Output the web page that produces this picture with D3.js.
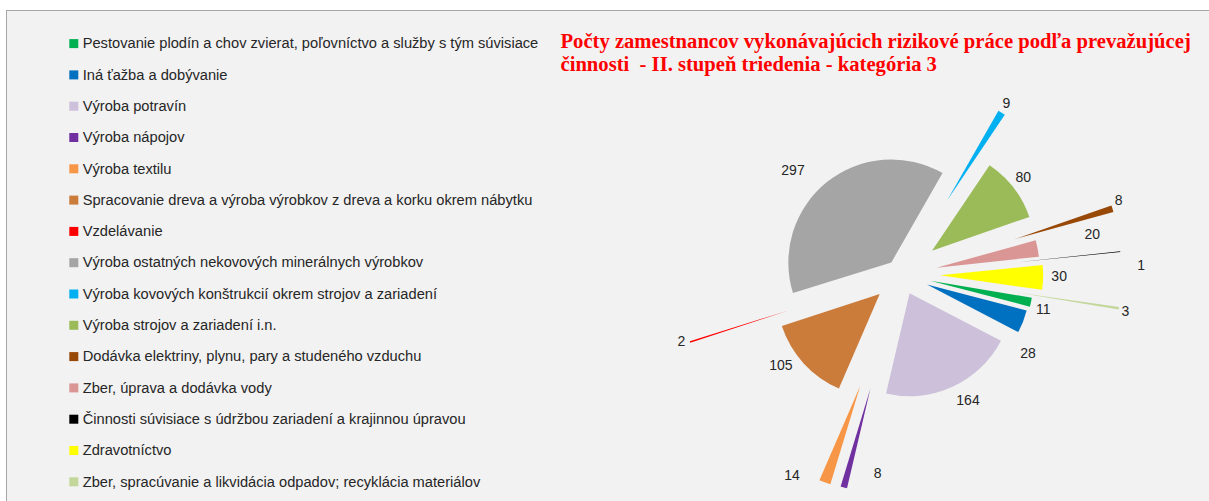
<!DOCTYPE html>
<html>
<head>
<meta charset="utf-8">
<script src="https://cdn.jsdelivr.net/npm/d3@7"></script>
<style>
  html, body { margin: 0; padding: 0; background: #ffffff; }
  svg { display: block; }
  text { white-space: pre; }
</style>
</head>
<body>
<svg id="chart" width="1209" height="501"></svg>
<script>
// ---- data ----
const categories = [
  "Pestovanie plodín a chov zvierat, poľovníctvo a služby s tým súvisiace",
  "Iná ťažba a dobývanie",
  "Výroba potravín",
  "Výroba nápojov",
  "Výroba textilu",
  "Spracovanie dreva a výroba výrobkov z dreva a korku okrem nábytku",
  "Vzdelávanie",
  "Výroba ostatných nekovových minerálnych výrobkov",
  "Výroba kovových konštrukcií okrem strojov a zariadení",
  "Výroba strojov a zariadení i.n.",
  "Dodávka elektriny, plynu, pary a studeného vzduchu",
  "Zber, úprava a dodávka vody",
  "Činnosti súvisiace s údržbou zariadení a krajinnou úpravou",
  "Zdravotníctvo",
  "Zber, spracúvanie a likvidácia odpadov; recyklácia materiálov"
];
const values = [11, 28, 164, 8, 14, 105, 2, 297, 9, 80, 8, 20, 1, 30, 3];
const titleLines = [
  "Počty zamestnancov vykonávajúcich rizikové práce podľa prevažujúcej",
  "činnosti  - II. stupeň triedenia - kategória 3"
];

// ---- styles ----
const colors = ["#00b050", "#0070c0", "#ccc0da", "#7030a0", "#f79646", "#cb7b3a", "#ff0000",
                "#a5a5a5", "#00b0f0", "#9bbb59", "#984807", "#da9694", "#000000", "#ffff00", "#c4d79b"];
const explode = [0.29, 0.27, 0.20, 1.14, 1.15, 0.28, 1.15, 0.15, 0.85, 0.38, 1.15, 0.35, 1.14, 0.38, 1.14];
const labelTurn = [1.7, 10.8, -3.5, -8.3, 8.4, 5.5, 1, -7.3, -0.3, -1, -1.65, -1.1, 3.7, -0.7, 0.4];
const labelGap = [13.5, 18.7, 18.4, -20.8, 7, 18.5, 8, 31.6, 10.7, 14.2, 8.7, 56.5, 20, 16, 7];

const W = 1209, H = 501;
const cx = 901, cy = 274.5, R = 103;
const firstSliceDeg = 99.5;

const svg = d3.select("#chart");

// frame
svg.append("rect")
  .attr("x", 6.5).attr("y", 10.5)
  .attr("width", 1400).attr("height", 700)
  .attr("fill", "#f2f2f2")
  .attr("stroke", "#a6a6a6").attr("stroke-width", 1);

// title
const title = svg.append("g").attr("fill", "#ff0000")
  .attr("font-family", "'Liberation Serif', 'Times New Roman', serif")
  .attr("font-weight", "bold");
const t1 = title.append("text").attr("x", 560.5).attr("y", 47.5).attr("font-size", 20)
  .attr("xml:space", "preserve").text(titleLines[0]);
const titleW = t1.node().getComputedTextLength();
const titleSize = 20 * 631 / titleW;
t1.attr("font-size", titleSize);
title.append("text").attr("x", 560.5).attr("y", 70.5).attr("font-size", titleSize)
  .attr("xml:space", "preserve").text(titleLines[1]);

// legend
const legend = svg.append("g")
  .attr("font-family", "'Liberation Sans', Arial, sans-serif")
  .attr("fill", "#262626");
const probe = legend.append("text").attr("font-size", 13).text(categories[0]);
const legSize = 13 * 456 / probe.node().getComputedTextLength();
probe.remove();
const rowY = d3.scaleLinear().domain([0, 1]).range([43.6, 74.9]);
const items = legend.selectAll("g.item").data(categories).join("g")
  .attr("class", "item")
  .attr("transform", (d, i) => `translate(0,${rowY(i)})`);
items.append("rect")
  .attr("x", 69.3).attr("y", -4.5).attr("width", 9).attr("height", 9)
  .attr("fill", (d, i) => colors[i]);
items.append("text")
  .attr("x", 82.7).attr("y", 4.7)
  .attr("font-size", legSize)
  .text(d => d);

// pie
const pie = d3.pie().sort(null).value(d => d)
  .startAngle(firstSliceDeg * Math.PI / 180)
  .endAngle(firstSliceDeg * Math.PI / 180 + 2 * Math.PI);
const arcs = pie(values);
const arc = d3.arc().innerRadius(0).outerRadius(R);
const rad = Math.PI / 180;

const g = svg.append("g").attr("transform", `translate(${cx},${cy})`);
g.selectAll("path").data(arcs).join("path")
  .attr("d", arc)
  .attr("fill", (d, i) => colors[i])
  .attr("transform", (d, i) => {
    const m = (d.startAngle + d.endAngle) / 2;
    const off = explode[i] * R;
    return `translate(${off * Math.sin(m)},${-off * Math.cos(m)})`;
  });

g.selectAll("text.lbl").data(arcs).join("text")
  .attr("class", "lbl")
  .attr("font-family", "'Liberation Sans', Arial, sans-serif")
  .attr("font-size", 14)
  .attr("fill", "#262626")
  .attr("text-anchor", "middle")
  .attr("dominant-baseline", "central")
  .attr("x", (d, i) => {
    const m = (d.startAngle + d.endAngle) / 2 + labelTurn[i] * rad;
    const r = (1 + explode[i]) * R + labelGap[i];
    return r * Math.sin(m);
  })
  .attr("y", (d, i) => {
    const m = (d.startAngle + d.endAngle) / 2 + labelTurn[i] * rad;
    const r = (1 + explode[i]) * R + labelGap[i];
    return -r * Math.cos(m);
  })
  .text(d => d.data);
</script>
</body>
</html>
